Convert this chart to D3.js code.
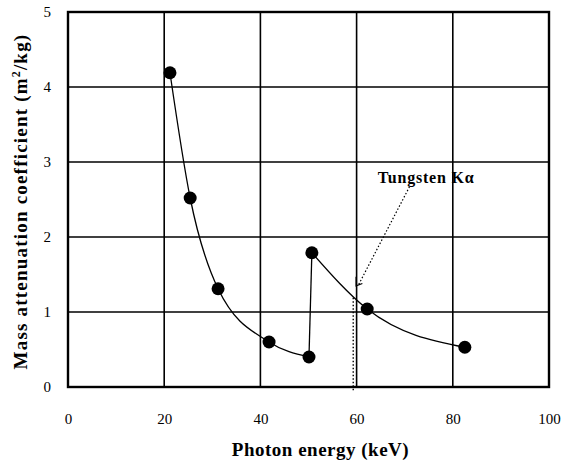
<!DOCTYPE html>
<html>
<head>
<meta charset="utf-8">
<script src="https://cdn.jsdelivr.net/npm/d3@7"></script>
<style>
  body { margin: 0; background: #fff; }
  text { font-family: "Liberation Serif", "DejaVu Serif", serif; fill: #000; }
</style>
</head>
<body>
<svg id="viz" width="562" height="466"></svg>
<script>
// data
let energy = [21.2, 25.4, 31.2, 41.8, 50.1, 50.7, 62.2, 82.5];
let coeff = [4.19, 2.52, 1.31, 0.6, 0.4, 1.79, 1.04, 0.53];
let xTicks = [0, 20, 40, 60, 80, 100];
let yTicks = [0, 1, 2, 3, 4, 5];
let kAlpha = 59.3; // tungsten K-alpha line
let kAlphaLabel = "Tungsten K\u03b1";

let plotLeft = 68, plotRight = 549, plotTop = 12, plotBottom = 387;

let svg = d3.select("#viz");

let x = d3.scaleLinear().domain([0, 100]).range([plotLeft, plotRight]);
let y = d3.scaleLinear().domain([0, 5]).range([plotBottom, plotTop]);

// grid lines
svg.append("g")
  .selectAll("line")
  .data(xTicks.slice(1, -1))
  .enter()
  .append("line")
  .attr("x1", d => x(d)).attr("x2", d => x(d))
  .attr("y1", plotTop).attr("y2", plotBottom)
  .attr("stroke", "#000").attr("stroke-width", 1.6);

svg.append("g")
  .selectAll("line")
  .data(yTicks.slice(1, -1))
  .enter()
  .append("line")
  .attr("x1", plotLeft).attr("x2", plotRight)
  .attr("y1", d => y(d)).attr("y2", d => y(d))
  .attr("stroke", "#000").attr("stroke-width", 1.6);

// frame
svg.append("rect")
  .attr("x", plotLeft).attr("y", plotTop)
  .attr("width", plotRight - plotLeft).attr("height", plotBottom - plotTop)
  .attr("fill", "none").attr("stroke", "#000").attr("stroke-width", 2.4);

// axes (labels only)
let xAxis = svg.append("g")
  .attr("transform", `translate(0, ${plotBottom})`)
  .call(d3.axisBottom(x).tickValues(xTicks).tickFormat(d3.format("d")).tickSize(0).tickPadding(26));
xAxis.select(".domain").remove();
xAxis.selectAll("text").style("font-size", "15px");

let yAxis = svg.append("g")
  .attr("transform", `translate(${plotLeft}, 0)`)
  .call(d3.axisLeft(y).tickValues(yTicks).tickFormat(d3.format("d")).tickSize(0).tickPadding(17));
yAxis.select(".domain").remove();
yAxis.selectAll("text").style("font-size", "15px");

// curve: smooth decrease, jump at the K edge, smooth again
let pts = energy.map((e, i) => [e, coeff[i]]);
let line = d3.line()
  .x(d => x(d[0]))
  .y(d => y(d[1]))
  .curve(d3.curveMonotoneX);

svg.append("path")
  .attr("d", line(pts.slice(0, 5)))
  .attr("fill", "none").attr("stroke", "#000").attr("stroke-width", 1.3);
svg.append("path")
  .attr("d", d3.line().x(d => x(d[0])).y(d => y(d[1]))(pts.slice(4, 6)))
  .attr("fill", "none").attr("stroke", "#000").attr("stroke-width", 1.3);
svg.append("path")
  .attr("d", line(pts.slice(5)))
  .attr("fill", "none").attr("stroke", "#000").attr("stroke-width", 1.3);

svg.selectAll("circle")
  .data(pts)
  .enter()
  .append("circle")
  .attr("cx", d => x(d[0]))
  .attr("cy", d => y(d[1]))
  .attr("r", 6.5)
  .attr("fill", "#000");

// tungsten K-alpha marker
svg.append("line")
  .attr("x1", x(kAlpha)).attr("x2", x(kAlpha))
  .attr("y1", y(1.19)).attr("y2", plotBottom + 4)
  .attr("stroke", "#000").attr("stroke-width", 1.4)
  .attr("stroke-dasharray", "1.5,2");

svg.append("line")
  .attr("x1", x(71)).attr("y1", y(2.67))
  .attr("x2", x(60.3)).attr("y2", y(1.35))
  .attr("stroke", "#000").attr("stroke-width", 1.2)
  .attr("stroke-dasharray", "1.5,2");

svg.append("path")
  .attr("d", `M${x(59.9)},${y(1.47)} L${x(59.9)},${y(1.35)} L${x(61.2)},${y(1.38)}`)
  .attr("fill", "none").attr("stroke", "#000").attr("stroke-width", 1.3);

svg.append("text")
  .attr("x", x(64.4)).attr("y", y(2.72))
  .style("font-size", "16px").style("font-weight", "bold")
  .style("letter-spacing", "0.8px")
  .text(kAlphaLabel);

// axis titles
svg.append("text")
  .attr("x", (plotLeft + plotRight) / 2 + 12).attr("y", 456)
  .attr("text-anchor", "middle")
  .style("font-size", "19px").style("font-weight", "bold")
  .style("letter-spacing", "0.5px")
  .text("Photon energy (keV)");

let yTitle = svg.append("text")
  .attr("transform", `translate(27, ${(plotTop + plotBottom) / 2 + 2}) rotate(-90)`)
  .attr("text-anchor", "middle")
  .style("font-size", "19px").style("font-weight", "bold")
  .style("letter-spacing", "1.2px");
yTitle.append("tspan").text("Mass attenuation coefficient (m");
yTitle.append("tspan").attr("dy", -7).style("font-size", "12px").text("2");
yTitle.append("tspan").attr("dy", 7).text("/kg)");
</script>
</body>
</html>
